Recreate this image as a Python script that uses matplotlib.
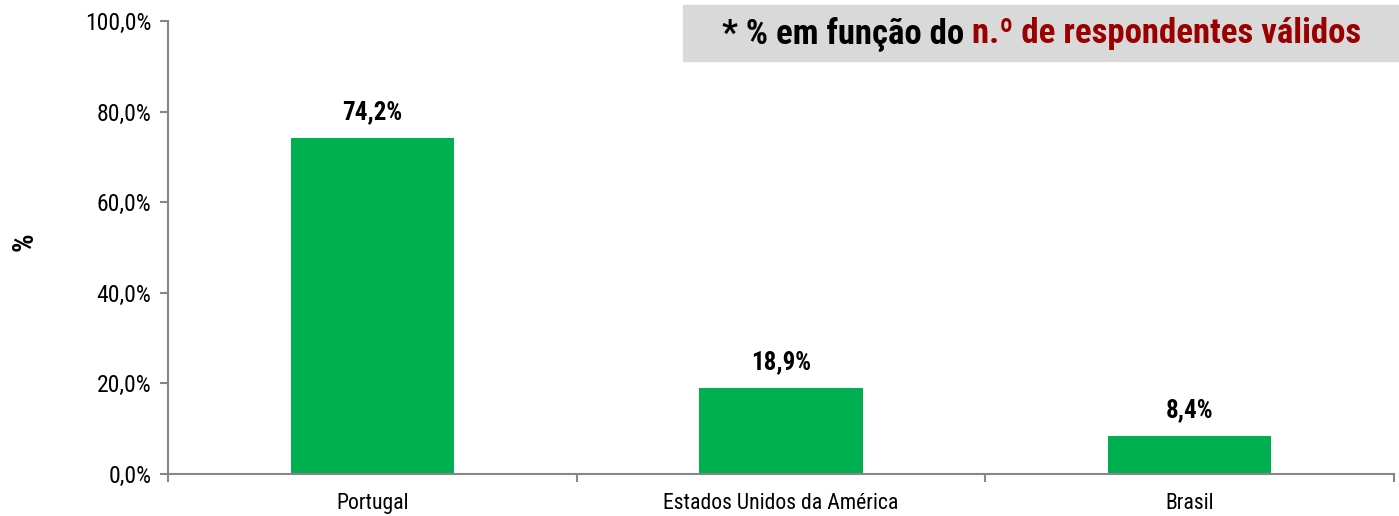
import matplotlib
matplotlib.use("Agg")
import matplotlib.pyplot as plt
from matplotlib import font_manager as fm
from matplotlib.ticker import FixedLocator, NullFormatter

categories = ["Portugal", "Estados Unidos da América", "Brasil"]
values = [74.2, 18.9, 8.4]
value_labels = ["74,2%", "18,9%", "8,4%"]
yticks = [0, 20, 40, 60, 80, 100]
ytick_labels = ["0,0%", "20,0%", "40,0%", "60,0%", "80,0%", "100,0%"]

names = {f.name for f in fm.fontManager.ttflist}
fam = "Liberation Sans"
for cand in ["Liberation Sans Narrow", "Arial Narrow", "Roboto Condensed", "Open Sans Condensed"]:
    if cand in names:
        fam = cand
        break
plt.rcParams["font.family"] = [fam, "DejaVu Sans"]

fig = plt.figure(figsize=(13.99, 5.16), dpi=100)
ax = fig.add_axes([168/1399, 1-474/516, (1394-168)/1399, (474-21)/516])

x = list(range(len(categories)))
ax.bar(x, values, width=0.4, color="#00b050")
ax.set_xlim(-0.5, len(categories)-0.5)
ax.set_ylim(0, 100)

gray = "#868686"
for s in ["top", "right"]:
    ax.spines[s].set_visible(False)
for s in ["left", "bottom"]:
    ax.spines[s].set_color(gray)
    ax.spines[s].set_linewidth(1.5)

ax.set_yticks(yticks)
ax.set_yticklabels(ytick_labels, fontsize=17)
ax.tick_params(axis="y", direction="out", length=6, width=1.5, color=gray, pad=6)

ax.set_xticks(x)
ax.set_xticklabels(categories, fontsize=15.7)
ax.tick_params(axis="x", which="major", length=0, pad=14)
ax.xaxis.set_minor_locator(FixedLocator([-0.5, 0.5, 1.5, 2.5]))
ax.xaxis.set_minor_formatter(NullFormatter())
ax.tick_params(axis="x", which="minor", direction="out", length=6, width=1.5, color=gray)

for xi, v, lab in zip(x, values, value_labels):
    ax.annotate(lab, (xi, v), xytext=(0, 10), textcoords="offset points",
                ha="center", va="bottom", fontsize=18, fontweight="bold")

fig.text(25/1399, 1-242/516, "%", rotation=90, fontsize=21, fontweight="bold",
         ha="center", va="center")

# banner
fig.patches.append(plt.Rectangle((683/1399, 1-61/516), (1399-683)/1399, 56/516,
                                 transform=fig.transFigure, color="#d9d9d9", zorder=0))
t1 = fig.text(722/1399, 1-34/516, "* % em função do ", fontsize=25, fontweight="bold",
              ha="left", va="center", color="black")
fig.canvas.draw()
bb = t1.get_window_extent()
fig.text(bb.x1/1399, 1-34/516, "n.º de respondentes válidos", fontsize=25,
         fontweight="bold", ha="left", va="center", color="#990000")

fig.savefig("out.png", dpi=100)
